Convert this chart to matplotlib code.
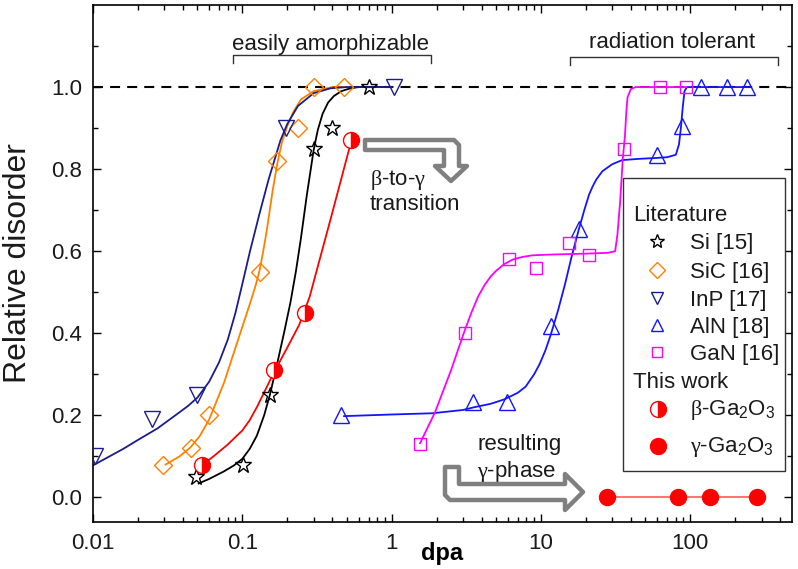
#!/usr/bin/env python3
"""
Relative disorder versus dpa: Ga2O3 (this work) compared with
literature data for Si, SiC, InP, AlN and GaN.
"""

import matplotlib
matplotlib.use("Agg")
import matplotlib.pyplot as plt
from matplotlib.patches import Polygon, Rectangle
from matplotlib.lines import Line2D
from matplotlib.ticker import FixedLocator, LogLocator, NullFormatter

# Shared styling
FONT_FAMILY = ["Liberation Sans", "DejaVu Sans"]
TEXT_COLOR = "#1a1a1a"
ARROW_GRAY = "#808080"
FIG_W, FIG_H = 798, 569  # pixels at dpi=100

plt.rcParams["font.family"] = FONT_FAMILY
plt.rcParams["mathtext.fontset"] = "custom"
plt.rcParams["mathtext.rm"] = "Liberation Serif"
plt.rcParams["mathtext.it"] = "Liberation Serif:italic"
plt.rcParams["mathtext.sf"] = "Liberation Sans"

# ---- measured points (dpa, relative disorder) ----
si_dpa = [0.049, 0.101, 0.153, 0.303, 0.40, 0.71]
si_dis = [0.05, 0.08, 0.25, 0.85, 0.90, 1.00]
sic_dpa = [0.0296, 0.045, 0.060, 0.132, 0.172, 0.236, 0.303, 0.483]
sic_dis = [0.08, 0.12, 0.20, 0.55, 0.82, 0.90, 1.00, 1.00]
inp_dpa = [0.0103, 0.025, 0.050, 0.196, 1.03]
inp_dis = [0.10, 0.19, 0.25, 0.90, 1.00]
aln_dpa = [0.46, 3.5, 5.95, 11.6, 17.9, 60, 88, 118, 177, 238]
aln_dis = [0.20, 0.232, 0.232, 0.417, 0.654, 0.834, 0.904, 1.00, 1.00, 1.00]
gan_dpa = [1.55, 3.1, 6.1, 9.2, 15.5, 20.9, 36, 62.8, 94]
gan_dis = [0.13, 0.40, 0.58, 0.56, 0.62, 0.59, 0.85, 1.00, 1.00]
beta_dpa = [0.054, 0.163, 0.262, 0.538]
beta_dis = [0.08, 0.31, 0.45, 0.87]
gamma_dpa = [27.6, 83, 136, 278]
gamma_dis = [0.0, 0.0, 0.0, 0.0]

# ---- fitted curves ----
si_fit_dpa = [0.051, 0.06, 0.075, 0.088, 0.10, 0.112, 0.125, 0.14, 0.153,
              0.171, 0.19, 0.21, 0.229, 0.247, 0.27, 0.30, 0.32, 0.345,
              0.375, 0.41, 0.46, 0.53, 0.60, 0.93]
si_fit_dis = [0.034, 0.045, 0.063, 0.078, 0.094, 0.118, 0.15, 0.20, 0.25,
              0.325, 0.40, 0.475, 0.553, 0.632, 0.735, 0.845, 0.895, 0.935,
              0.962, 0.978, 0.99, 0.997, 1.0, 1.0]
sic_fit_dpa = [0.0306, 0.038, 0.045, 0.052, 0.06, 0.0755, 0.09, 0.102, 0.115,
               0.124, 0.131, 0.138, 0.145, 0.16, 0.172, 0.185, 0.2, 0.22,
               0.247, 0.3, 0.4, 0.5]
sic_fit_dis = [0.08, 0.10, 0.122, 0.15, 0.19, 0.28, 0.365, 0.425, 0.483,
               0.522, 0.556, 0.60, 0.645, 0.75, 0.816, 0.868, 0.905, 0.94,
               0.97, 0.99, 1.0, 1.0]
inp_fit_dpa = [0.01, 0.0159, 0.02, 0.027, 0.035, 0.043, 0.05, 0.06, 0.07,
               0.08, 0.09, 0.10, 0.1126, 0.13, 0.15, 0.18, 0.2, 0.236, 0.3,
               0.39, 0.5, 1.0]
inp_fit_dis = [0.078, 0.118, 0.14, 0.168, 0.198, 0.222, 0.243, 0.282, 0.33,
               0.385, 0.45, 0.52, 0.60, 0.69, 0.775, 0.87, 0.91, 0.954, 0.985,
               0.997, 1.0, 1.0]
beta_fit_dpa = [0.054, 0.0631, 0.0794, 0.10, 0.112, 0.126, 0.163, 0.20, 0.24,
                0.282, 0.316, 0.398, 0.538]
beta_fit_dis = [0.08, 0.098, 0.128, 0.163, 0.188, 0.222, 0.305, 0.365, 0.42,
                0.488, 0.555, 0.69, 0.87]
aln_fit_dpa = [0.48, 1.0, 1.87, 3.0, 3.6, 4.6, 5.7, 7.0, 7.9, 9.0, 9.8, 10.7,
               11.6, 13.0, 14.5, 16.0, 17.9, 19.5, 21.0, 22.2, 23.5, 25.8, 30,
               35, 45, 58, 70, 80, 84, 86.5, 89, 91.5, 95, 253]
aln_fit_dis = [0.198, 0.202, 0.205, 0.213, 0.22, 0.228, 0.239, 0.255, 0.27,
               0.30, 0.325, 0.358, 0.395, 0.455, 0.52, 0.585, 0.652, 0.70,
               0.738, 0.758, 0.775, 0.795, 0.812, 0.822, 0.825, 0.827, 0.829,
               0.835, 0.86, 0.90, 0.95, 0.99, 1.0, 1.0]
gan_fit_dpa = [1.55, 1.95, 2.5, 3.04, 3.4, 3.8, 4.2, 4.6, 5.0, 5.7, 6.5, 7.5,
               8.8, 12, 20, 28, 31.4, 32.5, 33.9, 35.3, 36.5, 37.3, 38, 40,
               43, 94]
gan_fit_dis = [0.132, 0.207, 0.31, 0.40, 0.448, 0.49, 0.518, 0.538, 0.552,
               0.569, 0.58, 0.586, 0.59, 0.592, 0.594, 0.596, 0.60, 0.64,
               0.72, 0.824, 0.88, 0.94, 0.975, 0.995, 1.0, 1.0]

x_ticks = [0.01, 0.1, 1, 10, 100]
x_tick_labels = ["0.01", "0.1", "1", "10", "100"]
y_ticks = [0.0, 0.2, 0.4, 0.6, 0.8, 1.0]
y_tick_labels = ["0.0", "0.2", "0.4", "0.6", "0.8", "1.0"]

# marker styles per series
STYLES = {
    "Si": dict(marker="*", color="black", ms=12),
    "SiC": dict(marker="D", color="#ff8000", ms=9.5),
    "InP": dict(marker="v", color="#1c1c8a", ms=11),
    "AlN": dict(marker="^", color="#1414ff", ms=11),
    "GaN": dict(marker="s", color="#ff00ff", ms=8),
}
RED = "#ff0000"


def px(x, y):
    """Pixel position (y down) -> figure fraction."""
    return x / FIG_W, 1 - y / FIG_H


def add_text(fig, x, y, s, size=16, **kw):
    fx, fy = px(x, y)
    fig.text(fx, fy, s, fontsize=size, color=TEXT_COLOR, va="baseline", **kw)


def draw_block_arrow(fig, points):
    """Hollow gray block arrow given its outline in pixels."""
    poly = Polygon([px(x, y) for x, y in points], closed=True,
                   transform=fig.transFigure, facecolor="white",
                   edgecolor=ARROW_GRAY, linewidth=3.2, joinstyle="round",
                   zorder=5)
    fig.add_artist(poly)


def draw_bracket(fig, x0, x1, y, leg):
    xs = [x0, x0, x1, x1]
    ys = [y + leg, y, y, y + leg]
    pts = [px(a, b) for a, b in zip(xs, ys)]
    fig.add_artist(Line2D([p[0] for p in pts], [p[1] for p in pts],
                          transform=fig.transFigure, color="#333333", lw=1.0))


def legend_marker(fig, x, y, **kw):
    fx, fy = px(x, y)
    fig.add_artist(Line2D([fx], [fy], transform=fig.transFigure,
                          linestyle="none", zorder=7, **kw))


def create_chart():
    fig = plt.figure(figsize=(FIG_W / 100, FIG_H / 100), dpi=100)
    ax = fig.add_axes([93 / FIG_W, 1 - 522 / FIG_H, 699 / FIG_W, 517 / FIG_H])

    ax.set_xscale("log")
    ax.set_xlim(0.01, 480)
    ax.set_ylim(-0.06, 1.2)

    # saturation level
    ax.axhline(1.0, color="black", lw=1.5, ls=(0, (4.8, 3.4)), zorder=1)

    fits = [
        (si_fit_dpa, si_fit_dis, STYLES["Si"]["color"]),
        (sic_fit_dpa, sic_fit_dis, STYLES["SiC"]["color"]),
        (inp_fit_dpa, inp_fit_dis, STYLES["InP"]["color"]),
        (aln_fit_dpa, aln_fit_dis, STYLES["AlN"]["color"]),
        (gan_fit_dpa, gan_fit_dis, STYLES["GaN"]["color"]),
        (beta_fit_dpa, beta_fit_dis, RED),
    ]
    for xs, ys, c in fits:
        ax.plot(xs, ys, color=c, lw=1.3, zorder=2, solid_joinstyle="round")

    series = [
        ("Si", si_dpa, si_dis),
        ("SiC", sic_dpa, sic_dis),
        ("InP", inp_dpa, inp_dis),
        ("AlN", aln_dpa, aln_dis),
        ("GaN", gan_dpa, gan_dis),
    ]
    for name, xs, ys in series:
        st = STYLES[name]
        ax.plot(xs, ys, linestyle="none", marker=st["marker"],
                ms=st["ms"], mfc="none", mec=st["color"], mew=1.0, zorder=3)

    ax.plot(beta_dpa, beta_dis, linestyle="none", marker="o", ms=11.5,
            mfc=RED, mec=RED, mfcalt="white", fillstyle="right", mew=1.0,
            zorder=4)
    ax.plot(gamma_dpa, gamma_dis, color="#ff4a4a", lw=1.1, marker="o",
            ms=11.5, mfc=RED, mec=RED, zorder=4)

    # axes styling
    ax.xaxis.set_major_locator(FixedLocator(x_ticks))
    ax.set_xticklabels(x_tick_labels)
    ax.xaxis.set_minor_locator(LogLocator(base=10, subs=range(2, 10)))
    ax.xaxis.set_minor_formatter(NullFormatter())
    ax.yaxis.set_major_locator(FixedLocator(y_ticks))
    ax.set_yticklabels(y_tick_labels)
    ax.yaxis.set_minor_locator(FixedLocator([0.1, 0.3, 0.5, 0.7, 0.9, 1.1]))
    ax.tick_params(which="both", direction="in", top=True, right=True,
                   width=1.0, labelsize=16, labelcolor=TEXT_COLOR, pad=8)
    ax.tick_params(which="major", length=6)
    ax.tick_params(which="minor", length=3.5)
    for sp in ax.spines.values():
        sp.set_linewidth(1.2)

    ax.set_xlabel("dpa", fontsize=17, fontweight="bold", color="black")
    ax.xaxis.set_label_coords(0.5, -0.038)
    ax.set_ylabel("Relative disorder", fontsize=23, color=TEXT_COLOR)
    ax.yaxis.set_label_coords(-0.086, 0.5)

    # range brackets
    add_text(fig, 330, 50, "easily amorphizable", ha="center")
    draw_bracket(fig, 233, 431, 55, 8)
    add_text(fig, 672, 48, "radiation tolerant", ha="center")
    draw_bracket(fig, 570, 778, 57, 8)

    # beta-to-gamma arrow and note
    draw_block_arrow(fig, [(365, 140), (454, 140), (459, 145), (459, 166),
                           (467, 166), (451, 181), (435, 166), (444, 166),
                           (444, 150), (365, 150)])
    add_text(fig, 370, 185, r"$\mathrm{\beta}$-to-$\mathrm{\gamma}$")
    add_text(fig, 370, 210, "transition")

    # resulting gamma-phase arrow and note
    draw_block_arrow(fig, [(445, 467), (459, 467), (459, 484), (565, 484),
                           (565, 474), (583, 492), (565, 510), (565, 500),
                           (450, 500), (445, 495)])
    add_text(fig, 477, 450, "resulting")
    add_text(fig, 477, 477, r"$\mathrm{\gamma}$-phase")

    # legend box
    x0, y0 = px(623, 471)
    x1, y1 = px(785, 178)
    fig.add_artist(Rectangle((x0, y0), x1 - x0, y1 - y0,
                             transform=fig.transFigure, facecolor="white",
                             edgecolor="#333333", lw=1.0, zorder=6))
    add_text(fig, 633, 221, "Literature", zorder=7)
    rows = [("Si", "Si [15]", 241), ("SiC", "SiC [16]", 270),
            ("InP", "InP [17]", 298), ("AlN", "AlN [18]", 325),
            ("GaN", "GaN [16]", 352)]
    for name, label, yc in rows:
        st = STYLES[name]
        legend_marker(fig, 657, yc, marker=st["marker"], ms=st["ms"] * 0.85,
                      mfc="none", mec=st["color"], mew=1.0)
        add_text(fig, 690, yc + 8, label, zorder=7)
    add_text(fig, 633, 388, "This work", zorder=7)
    legend_marker(fig, 658, 409, marker="o", ms=11.5, mfc=RED, mec=RED,
                  mfcalt="white", fillstyle="right", mew=1.0)
    add_text(fig, 690, 415,
             r"$\mathrm{\beta}$-Ga$_\mathsf{2}$O$_\mathsf{3}$", zorder=7)
    legend_marker(fig, 658, 446, marker="o", ms=11.5, mfc=RED, mec=RED)
    add_text(fig, 690, 452,
             r"$\mathrm{\gamma}$-Ga$_\mathsf{2}$O$_\mathsf{3}$", zorder=7)

    fig.savefig("out.png", dpi=100, facecolor="white")
    plt.close(fig)


if __name__ == "__main__":
    create_chart()
